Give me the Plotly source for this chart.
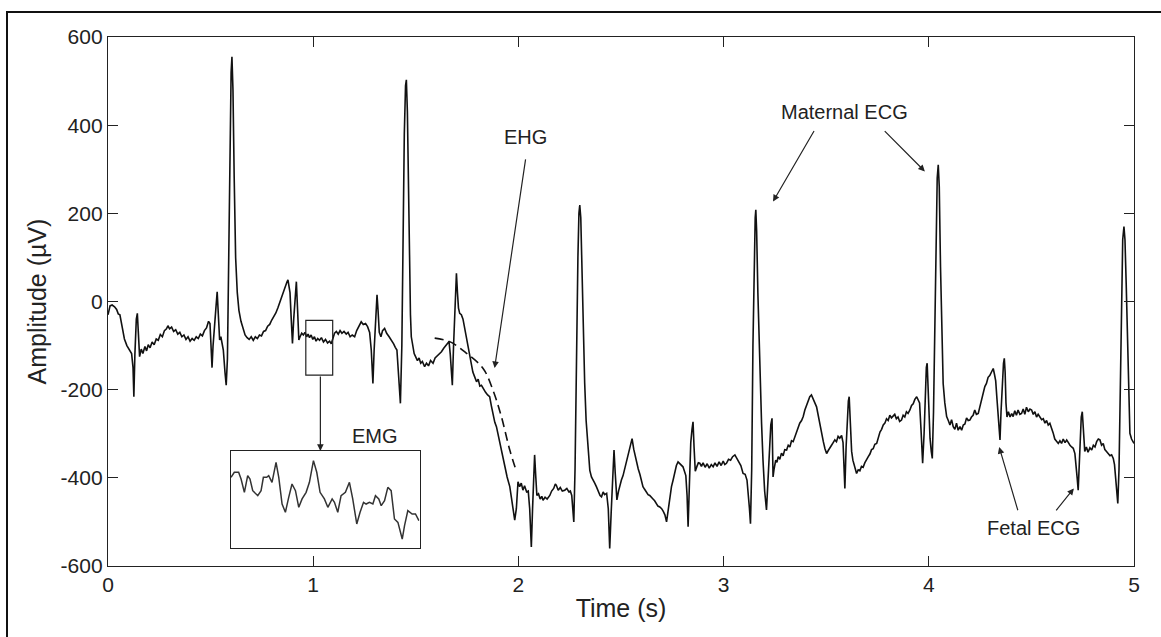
import plotly.graph_objects as go

# ---------------- data ----------------
time_s = [
0.000,0.010,0.020,0.032,0.042,0.050,0.058,0.068,0.080,0.092,0.105,0.115,0.122,0.126,0.131,0.138,0.143,0.148,0.154,0.162,
0.170,0.180,0.188,0.196,0.205,0.215,0.225,0.235,0.245,0.255,0.265,0.275,0.285,0.292,0.300,0.310,0.320,0.330,0.340,0.350,
0.360,0.370,0.380,0.390,0.400,0.410,0.420,0.430,0.440,0.450,0.460,0.470,0.480,0.490,0.497,0.503,0.507,0.512,0.518,0.525,
0.532,0.538,0.544,0.550,0.556,0.562,0.570,0.576,0.582,0.588,0.595,0.600,0.604,0.609,0.615,0.622,0.630,0.638,0.648,0.658,
0.668,0.678,0.688,0.698,0.708,0.718,0.728,0.738,0.748,0.758,0.768,0.778,0.788,0.798,0.808,0.818,0.828,0.838,0.848,0.858,
0.866,0.872,0.877,0.882,0.887,0.893,0.899,0.905,0.912,0.918,0.924,0.930,0.936,0.944,0.952,0.960,
0.968,0.975,0.982,0.990,0.998,1.006,1.014,1.022,1.031,1.040,1.050,1.060,1.070,1.080,1.088,1.096,1.104,1.113,1.122,1.131,
1.140,1.150,1.161,1.170,1.180,1.190,1.202,1.212,1.222,1.234,1.244,1.255,1.265,1.275,1.283,1.291,1.297,1.305,1.311,1.316,
1.322,1.330,1.338,1.348,1.358,1.370,1.381,1.392,1.400,1.408,1.415,1.420,1.425,1.432,1.438,1.444,1.450,1.454,1.459,1.464,
1.469,1.474,1.478,1.485,1.492,1.500,1.508,1.516,1.524,1.532,1.543,1.552,1.562,1.572,1.584,1.594,1.604,1.614,1.625,1.636,
1.646,1.656,1.662,1.668,1.674,1.678,1.684,1.690,1.694,1.698,1.703,1.708,1.714,1.722,1.730,1.738,1.746,1.754,1.762,1.770,
1.778,1.787,1.796,1.804,1.812,1.820,1.830,1.840,1.850,1.860,1.868,1.876,1.885,1.893,1.902,1.912,1.925,1.935,1.945,1.958,
1.966,1.974,1.982,1.990,1.998,2.006,2.014,2.022,2.030,2.040,2.048,2.055,2.063,2.069,2.074,2.079,2.085,2.090,2.098,2.106,
2.114,2.120,2.130,2.140,2.153,2.162,2.172,2.180,2.185,2.194,2.204,2.214,2.226,2.236,2.246,2.253,2.260,2.265,2.270,2.276,
2.283,2.290,2.295,2.299,2.304,2.310,2.316,2.323,2.330,2.338,2.348,2.356,2.364,2.372,2.380,2.390,2.398,2.405,2.413,2.420,
2.430,2.438,2.445,2.452,2.460,2.466,2.472,2.480,2.488,2.495,2.502,2.510,2.518,2.526,2.534,2.544,2.554,2.562,2.569,2.575,
2.584,2.592,2.600,2.607,2.615,2.624,2.632,2.640,2.648,2.656,2.664,2.672,2.680,2.689,2.698,2.706,2.714,2.722,2.730,2.738,
2.746,2.754,2.762,2.770,2.778,2.786,2.794,2.802,2.810,2.816,2.822,2.827,2.833,2.840,2.846,2.851,2.856,2.862,2.870,2.877,
2.884,2.892,2.900,2.910,2.920,2.930,2.940,2.949,2.958,2.968,2.978,2.988,2.998,3.006,3.014,3.024,3.034,3.044,3.055,3.064,
3.074,3.084,3.095,3.105,3.114,3.120,3.126,3.131,3.137,3.143,3.149,3.154,3.157,3.161,3.167,3.174,3.180,3.185,3.192,3.200,
3.209,3.216,3.224,3.230,3.236,3.241,3.246,3.254,3.260,3.266,3.274,3.282,3.290,3.298,3.307,3.315,3.323,3.331,3.339,3.347,
3.355,3.363,3.371,3.380,3.388,3.396,3.404,3.412,3.420,3.428,3.436,3.444,3.453,3.461,3.469,3.477,3.486,3.494,3.502,3.510,
3.518,3.526,3.534,3.542,3.550,3.558,3.566,3.575,3.582,3.587,3.591,3.597,3.604,3.608,3.612,3.618,3.624,3.630,3.638,3.648,
3.656,3.664,3.672,3.680,3.688,3.697,3.705,3.713,3.721,3.729,3.737,3.746,3.754,3.762,3.770,3.778,3.786,3.794,3.802,3.810,
3.818,3.826,3.834,3.842,3.850,3.858,3.867,3.875,3.883,3.891,3.899,3.908,3.916,3.924,3.932,3.941,3.948,3.955,3.962,3.970,
3.977,3.984,3.988,3.992,3.996,4.000,4.006,4.012,4.017,4.023,4.030,4.036,4.041,4.046,4.051,4.057,4.064,4.070,4.078,4.087,
4.095,4.103,4.111,4.119,4.127,4.135,4.143,4.152,4.160,4.168,4.176,4.184,4.192,4.200,4.208,4.216,4.224,4.232,4.241,4.249,
4.257,4.265,4.273,4.281,4.289,4.297,4.305,4.314,4.320,4.326,4.332,4.340,4.347,4.352,4.358,4.364,4.368,4.372,4.376,4.381,
4.388,4.396,4.404,4.411,4.419,4.427,4.435,4.444,4.452,4.460,4.468,4.476,4.485,4.493,4.501,4.509,4.517,4.525,4.533,4.542,
4.550,4.558,4.566,4.574,4.582,4.590,4.598,4.606,4.614,4.622,4.631,4.639,4.647,4.655,4.664,4.672,4.680,4.688,4.696,4.704,
4.712,4.718,4.723,4.728,4.733,4.738,4.743,4.748,4.753,4.760,4.768,4.776,4.785,4.794,4.802,4.810,4.818,4.826,4.834,4.842,
4.850,4.858,4.867,4.875,4.883,4.891,4.899,4.905,4.911,4.916,4.921,4.927,4.933,4.939,4.945,4.951,4.956,4.962,4.968,4.974,
4.980,4.988,4.996,5.000,
]

amplitude_uv = [
-30,-10,-8,-12,-18,-28,-30,-55,-85,-100,-112,-118,-150,-216,-120,-40,-27,-90,-125,-108,
-118,-102,-112,-98,-105,-92,-98,-85,-88,-75,-80,-66,-62,-55,-62,-58,-68,-64,-74,-70,
-80,-76,-86,-80,-90,-84,-88,-80,-84,-74,-78,-66,-60,-45,-50,-110,-150,-100,-50,-20,
22,-40,-87,-80,-95,-110,-160,-190,-130,100,350,520,555,480,280,100,20,-20,-45,-62,
-76,-82,-86,-80,-88,-80,-84,-76,-78,-68,-66,-56,-52,-42,-34,-26,-14,0,14,26,
36,44,49,38,20,-40,-95,-40,20,45,-20,-87,-80,-72,-76,-70,
-80,-74,-82,-76,-86,-80,-90,-84,-88,-82,-92,-86,-94,-90,-96,-84,-72,-68,-74,-66,
-72,-68,-74,-70,-80,-76,-80,-66,-56,-46,-52,-50,-57,-70,-110,-186,-110,-20,15,-20,
-70,-80,-66,-61,-72,-80,-87,-96,-104,-110,-160,-205,-231,-100,150,380,490,503,430,250,
80,-30,-80,-100,-118,-126,-134,-128,-140,-136,-148,-140,-146,-134,-140,-128,-124,-118,-114,-106,
-100,-94,-91,-120,-165,-190,-100,-10,40,64,20,-15,-27,-30,-40,-60,-78,-95,-120,-140,
-160,-171,-182,-176,-192,-190,-200,-206,-212,-216,-236,-256,-274,-284,-305,-330,-352,-376,-398,-420,
-445,-468,-496,-470,-409,-420,-412,-428,-418,-432,-430,-470,-557,-470,-390,-348,-400,-440,-436,-448,
-442,-451,-444,-448,-440,-430,-424,-414,-417,-428,-422,-430,-428,-424,-432,-430,-440,-470,-500,-380,
-100,100,200,219,190,60,-80,-185,-270,-330,-383,-398,-404,-412,-420,-432,-440,-443,-432,-438,
-435,-470,-560,-480,-380,-337,-390,-450,-430,-414,-405,-395,-380,-364,-352,-334,-311,-335,-350,-367,
-380,-392,-410,-420,-426,-432,-438,-440,-443,-448,-452,-458,-464,-466,-470,-476,-484,-500,-470,-440,
-420,-405,-390,-372,-364,-368,-372,-375,-386,-395,-440,-511,-420,-320,-290,-273,-330,-385,-374,-366,
-367,-374,-366,-376,-368,-378,-370,-375,-366,-374,-364,-372,-362,-370,-367,-358,-360,-352,-348,-356,
-364,-372,-390,-392,-405,-430,-470,-504,-380,-100,100,190,208,160,20,-120,-220,-276,-360,-430,
-473,-400,-320,-280,-265,-398,-380,-360,-365,-352,-358,-344,-350,-336,-337,-326,-330,-316,-318,-307,
-296,-290,-276,-270,-261,-246,-236,-224,-216,-212,-220,-228,-239,-258,-280,-299,-318,-334,-345,-338,
-330,-326,-320,-314,-318,-306,-310,-304,-320,-380,-424,-330,-250,-226,-216,-280,-340,-360,-376,-390,
-382,-384,-374,-376,-366,-360,-352,-346,-336,-334,-324,-322,-308,-296,-290,-280,-276,-266,-270,-258,
-264,-261,-256,-266,-262,-272,-269,-258,-262,-250,-254,-246,-236,-232,-222,-216,-222,-230,-290,-367,
-300,-200,-150,-140,-200,-270,-310,-340,-356,-250,-50,150,280,310,260,80,-100,-186,-230,-261,
-270,-280,-268,-284,-290,-276,-292,-284,-292,-280,-278,-264,-270,-269,-262,-258,-246,-256,-254,-240,
-224,-206,-193,-186,-172,-168,-160,-152,-165,-180,-220,-280,-314,-250,-180,-140,-129,-160,-230,-262,
-250,-262,-254,-261,-248,-258,-246,-256,-254,-244,-256,-240,-250,-244,-246,-256,-250,-262,-256,-261,
-268,-266,-276,-270,-280,-276,-286,-298,-312,-318,-322,-316,-322,-312,-320,-314,-322,-326,-330,-333,
-345,-370,-400,-428,-380,-310,-262,-250,-300,-340,-330,-342,-332,-337,-326,-330,-318,-312,-314,-326,
-322,-336,-341,-346,-350,-348,-356,-370,-410,-440,-458,-380,-200,20,140,170,140,40,-100,-220,
-299,-312,-320,-322,
]

# EHG dashed trend
ehg_time = [1.592, 1.665, 1.746, 1.828, 1.876, 1.917, 1.958, 1.990]
ehg_amp = [-83, -91, -117, -152, -201, -261, -337, -385]

# EMG inset (zoomed segment of the box around t = 1 s)
emg_time = [0.9640,0.9663,0.9693,0.9710,0.9733,0.9756,0.9772,0.9791,0.9826,0.9849,0.9865,0.9888,0.9902,0.9925,0.9953,
            0.9972,0.9995,1.0018,1.0041,1.0064,1.0088,1.0111,1.0134,1.0162,1.0185,1.0213,1.0236,1.0259,1.0289,1.0313,
            1.0343,1.0359,1.0382,1.0405,1.0435,1.0463,1.0486,1.0514,1.0537,1.0561,1.0579,1.0602,1.0626,1.0644,1.0667,
            1.0684,1.0707,1.0730,1.0753,1.0776,1.0800,1.0830,1.0846,1.0869,1.0899,1.0922,1.0946]
emg_amp = [-76.4,-69.9,-69.9,-78.5,-95.6,-74.2,-78.5,-93.5,-99.9,-93.5,-76.4,-76.4,-74.2,-82.8,-57.1,
           -76.4,-110.6,-121.2,-102.0,-84.9,-93.5,-114.8,-104.1,-95.6,-82.8,-55.0,-69.9,-95.6,-104.1,-114.8,
           -104.1,-108.4,-121.2,-99.9,-95.6,-82.8,-104.1,-136.2,-121.2,-108.4,-110.6,-108.4,-110.6,-99.9,-104.1,
           -112.7,-106.3,-89.2,-93.5,-129.8,-134.1,-155.5,-138.4,-119.1,-123.4,-123.4,-131.9]

emg_box_t = [0.964, 1.095]
emg_box_amp = [-167, -43]

x_ticks = [0, 1, 2, 3, 4, 5]
x_tick_text = ["0", "1", "2", "3", "4", "5"]
y_ticks = [-600, -400, -200, 0, 200, 400, 600]
y_tick_text = ["-600", "-400", "-200", "0", "200", "400", "600"]

# ---------------- figure ----------------
FONT = "Liberation Sans, Arial, sans-serif"
AX = "#222222"

fig = go.Figure()
fig.add_trace(go.Scatter(x=time_s, y=amplitude_uv, mode="lines",
                         line=dict(color="#111111", width=1.6), showlegend=False,
                         hoverinfo="skip"))
fig.add_trace(go.Scatter(x=ehg_time, y=ehg_amp, mode="lines", line_shape="spline",
                         line=dict(color="#111111", width=1.6, dash="9px,5px"),
                         showlegend=False, hoverinfo="skip"))
fig.add_trace(go.Scatter(x=emg_time, y=emg_amp, mode="lines", xaxis="x2", yaxis="y2",
                         line=dict(color="#333333", width=1.5), showlegend=False,
                         hoverinfo="skip"))

W, H = 1161, 637
L, R, T, B = 108, 27, 37, 71
pw, ph = W - L - R, H - T - B

def px(xpix):
    return (xpix - L) / pw

def py(ypix):
    return 1 - (ypix - T) / ph

fig.update_layout(
    width=W, height=H,
    margin=dict(l=L, r=R, t=T, b=B),
    paper_bgcolor="white", plot_bgcolor="white",
    font=dict(family=FONT, color="#222222", size=19),
    xaxis=dict(range=[0, 5], tickvals=x_ticks, ticktext=x_tick_text, ticks="inside", ticklen=10,
               tickwidth=1.3, tickcolor=AX, showline=True, linecolor=AX, linewidth=1.3,
               mirror="ticks", showgrid=False, zeroline=False, tickfont=dict(size=21),
               title=dict(text="Time (s)", font=dict(size=25), standoff=4)),
    yaxis=dict(range=[-600, 600], tickvals=y_ticks, ticktext=y_tick_text, ticks="inside", ticklen=10,
               tickwidth=1.3, tickcolor=AX, showline=True, linecolor=AX, linewidth=1.3,
               mirror="ticks", showgrid=False, zeroline=False, tickfont=dict(size=21),
               title=dict(text="Amplitude (\u00b5V)", font=dict(size=25), standoff=6)),
    xaxis2=dict(domain=[px(231), px(419.5)], anchor="y2", range=emg_box_t,
                showline=True, mirror=True, linecolor=AX, linewidth=1.3,
                showticklabels=False, ticks="", showgrid=False, zeroline=False),
    yaxis2=dict(domain=[py(548), py(451.3)], anchor="x2", range=emg_box_amp,
                showline=True, mirror=True, linecolor=AX, linewidth=1.3,
                showticklabels=False, ticks="", showgrid=False, zeroline=False),
)

# outer frame of the figure
fig.add_shape(type="rect", xref="paper", yref="paper",
              x0=px(7), x1=px(1175), y0=py(660), y1=py(12),
              line=dict(color="#111111", width=2), layer="above")

# small EMG box on the trace
fig.add_shape(type="rect", xref="x", yref="y",
              x0=emg_box_t[0], x1=emg_box_t[1], y0=emg_box_amp[0], y1=emg_box_amp[1],
              line=dict(color=AX, width=1.2))

def arrow(x, y, ax, ay):
    fig.add_annotation(x=x, y=y, ax=ax, ay=ay, xref="x", yref="y", axref="x", ayref="y",
                       text="", showarrow=True, arrowhead=2, arrowsize=1.1, arrowwidth=1.2,
                       arrowcolor="#222222")

def label(x, y, text):
    fig.add_annotation(x=x, y=y, xref="x", yref="y", text=text, showarrow=False,
                       font=dict(size=20, color="#222222", family=FONT))

# EMG
arrow(1.035, -339, 1.035, -167)
label(1.30, -305, "EMG")
# EHG
label(2.035, 374, "EHG")
arrow(1.884, -151, 2.036, 326)
# Maternal ECG
label(3.591, 429, "Maternal ECG")
arrow(3.241, 227, 3.445, 390)
arrow(3.981, 295, 3.778, 390)
# Fetal ECG
label(4.512, -514, "Fetal ECG")
arrow(4.343, -330, 4.436, -477)
arrow(4.707, -424, 4.615, -477)

fig.write_html("out.html")
